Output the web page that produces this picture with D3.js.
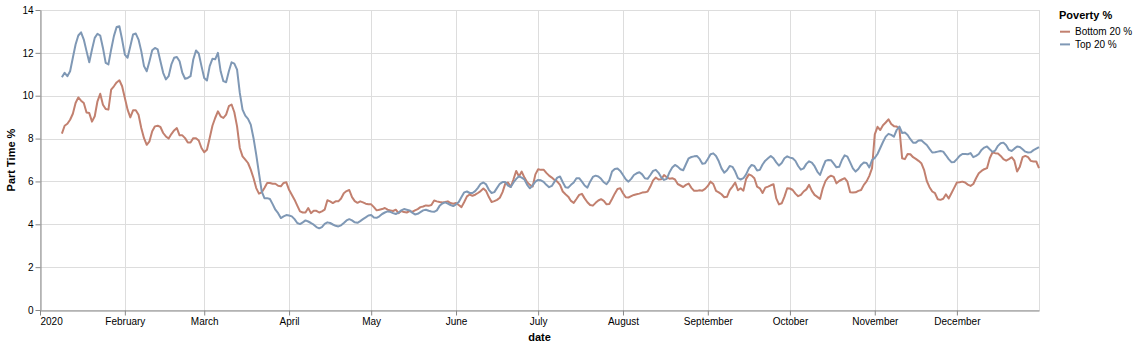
<!DOCTYPE html>
<html>
<head>
<meta charset="utf-8">
<script src="https://cdn.jsdelivr.net/npm/d3@7"></script>
<style>
  body { margin: 0; background: #fff; }
  svg { display: block; }
  text { font-family: "Liberation Sans", Arial, sans-serif; }
</style>
</head>
<body>
<svg id="chart" width="1138" height="347"></svg>
<script>
// Daily series, first value on startDate, one value per day through Dec 31.
const startDate = "2020-01-09";
const seriesNames = ["Bottom 20 %", "Top 20 %"];
const seriesColors = ["#c2806f", "#7f98b5"];

const bottom20 = [
  8.23,8.6,8.69,8.88,9.16,9.66,9.92,9.77,9.66,9.22,
  9.19,8.79,9.04,9.74,10.09,9.58,9.38,9.35,10.28,10.44,
  10.62,10.72,10.44,9.89,9.35,8.99,9.32,9.32,9.11,8.49,
  8.02,7.71,7.87,8.34,8.57,8.6,8.54,8.26,8.1,8.0,
  8.21,8.38,8.49,8.15,8.15,8.02,7.82,7.82,8.02,8.02,
  7.91,7.56,7.36,7.48,8.03,8.6,8.96,9.27,9.04,8.96,
  9.12,9.51,9.59,9.23,8.57,7.56,7.17,7.02,6.86,6.55,
  6.16,5.69,5.43,5.49,5.69,5.93,5.93,5.89,5.89,5.8,
  5.77,5.93,5.96,5.61,5.38,5.15,4.87,4.6,4.55,4.55,
  4.76,4.52,4.63,4.63,4.55,4.6,4.68,5.12,5.07,4.99,
  5.07,5.07,5.2,5.45,5.55,5.6,5.27,5.08,5.0,5.07,
  5.02,4.96,4.94,4.93,4.8,4.65,4.68,4.71,4.76,4.68,
  4.65,4.62,4.68,4.52,4.62,4.57,4.55,4.62,4.58,4.65,
  4.71,4.8,4.83,4.88,4.86,4.9,5.11,5.07,5.04,5.02,
  5.04,5.07,4.99,4.96,4.99,4.9,4.8,5.04,5.3,5.39,
  5.33,5.38,5.46,5.55,5.67,5.55,5.27,5.04,5.08,5.14,
  5.24,5.5,5.9,5.95,5.74,6.1,6.49,6.23,6.46,6.18,
  5.96,5.84,5.76,6.33,6.57,6.54,6.55,6.4,6.27,6.18,
  6.07,5.99,5.84,5.53,5.4,5.29,5.09,5.0,5.18,5.37,
  5.42,5.21,5.03,4.9,4.87,5.0,5.11,5.17,5.09,4.93,
  4.95,5.18,5.43,5.65,5.68,5.45,5.26,5.25,5.31,5.37,
  5.4,5.43,5.48,5.49,5.53,5.76,6.05,6.18,6.09,6.1,
  6.3,6.19,6.13,6.15,6.09,5.88,5.81,5.74,5.84,5.9,
  5.7,5.56,5.56,5.59,5.57,5.65,5.79,5.99,5.88,5.56,
  5.49,5.4,5.26,5.28,5.59,5.76,5.95,5.59,5.68,5.57,
  6.12,6.33,6.27,6.15,5.76,5.68,5.46,5.71,5.76,5.82,
  5.87,5.21,4.93,4.98,5.29,5.68,5.67,5.6,5.43,5.31,
  5.37,5.53,5.63,5.84,5.56,5.37,5.28,5.18,5.68,6.02,
  6.19,6.27,6.21,5.91,6.02,6.09,6.15,5.99,5.49,5.48,
  5.49,5.56,5.6,5.84,6.0,6.26,6.62,8.2,8.55,8.4,
  8.62,8.75,8.9,8.68,8.58,8.56,8.45,7.08,7.04,7.28,
  7.27,7.13,7.05,6.96,6.85,6.54,6.02,5.73,5.53,5.45,
  5.17,5.14,5.19,5.4,5.2,5.45,5.7,5.95,5.96,5.99,
  5.95,5.85,5.79,5.88,6.15,6.38,6.49,6.57,6.62,7.08,
  7.35,7.32,7.3,7.19,7.04,6.97,7.04,7.13,6.97,6.46,
  6.69,7.13,7.19,7.13,6.96,6.93,6.93,6.62
];

const top20 = [
  10.86,11.07,10.91,11.14,11.77,12.39,12.81,12.96,12.62,12.08,
  11.56,12.16,12.7,12.89,12.81,12.23,11.53,11.46,12.16,12.78,
  13.21,13.24,12.62,11.92,11.77,12.31,12.86,12.9,12.62,12.08,
  11.38,11.14,11.61,12.12,12.23,12.16,11.61,11.07,10.76,10.91,
  11.46,11.77,11.81,11.61,11.07,10.79,10.83,10.91,11.69,12.11,
  11.97,11.38,10.83,10.71,11.38,11.72,11.7,12.0,11.14,10.68,
  10.63,11.14,11.56,11.5,11.22,10.13,9.35,9.07,8.92,8.65,
  8.03,7.25,6.39,5.54,5.22,5.22,5.18,4.94,4.68,4.52,
  4.29,4.37,4.43,4.41,4.37,4.24,4.06,4.01,4.09,4.18,
  4.13,4.06,3.98,3.87,3.81,3.87,4.02,4.09,4.06,3.99,
  3.93,3.9,3.95,4.06,4.18,4.24,4.18,4.09,4.07,4.15,
  4.24,4.32,4.41,4.43,4.32,4.3,4.37,4.48,4.55,4.6,
  4.58,4.52,4.48,4.54,4.65,4.71,4.68,4.65,4.54,4.46,
  4.49,4.57,4.65,4.68,4.63,4.6,4.58,4.65,4.86,4.97,
  5.02,4.97,4.9,4.85,4.93,5.04,5.27,5.49,5.53,5.46,
  5.46,5.55,5.7,5.89,5.95,5.86,5.61,5.46,5.5,5.7,
  5.89,5.97,5.97,5.8,5.74,5.95,6.12,6.24,6.18,6.09,
  5.84,5.68,5.81,5.99,6.07,6.05,5.98,5.84,5.73,5.79,
  5.99,6.18,6.23,5.96,5.73,5.71,5.84,5.95,6.15,6.15,
  5.99,5.81,5.71,5.99,6.21,6.27,6.23,6.12,5.96,5.87,
  6.05,6.46,6.58,6.6,6.49,6.3,6.1,5.99,6.12,6.3,
  6.38,6.43,6.33,6.15,6.12,6.3,6.49,6.54,6.4,6.18,
  6.07,6.12,6.43,6.65,6.77,6.69,6.57,6.52,6.8,7.08,
  7.14,7.17,7.19,7.05,6.82,6.85,7.05,7.27,7.31,7.19,
  6.94,6.61,6.41,6.52,6.72,6.68,6.46,6.15,6.09,6.15,
  6.33,6.61,6.77,6.72,6.51,6.54,6.79,6.97,7.08,7.19,
  7.08,6.89,6.74,6.86,7.08,7.17,7.11,7.08,6.96,6.72,
  6.55,6.61,6.82,6.94,6.88,6.71,6.46,6.3,6.65,6.96,
  7.0,6.99,6.83,6.66,6.68,7.0,7.22,7.16,6.89,6.61,
  6.46,6.58,6.77,6.88,6.86,6.65,7.0,7.1,7.28,7.56,
  7.84,8.09,8.22,8.17,8.09,8.4,8.56,8.26,8.28,8.17,
  7.97,7.81,7.81,7.91,7.92,7.81,7.7,7.52,7.35,7.36,
  7.39,7.42,7.39,7.22,7.04,6.9,6.91,7.04,7.19,7.28,
  7.28,7.27,7.32,7.13,7.19,7.28,7.47,7.58,7.63,7.5,
  7.38,7.44,7.66,7.78,7.81,7.69,7.47,7.42,7.53,7.63,
  7.61,7.5,7.39,7.35,7.36,7.46,7.53,7.6
];

const yTickValues = [0, 2, 4, 6, 8, 10, 12, 14];
const monthLabels = ["2020", "February", "March", "April", "May", "June", "July",
                     "August", "September", "October", "November", "December"];
const xTitle = "date";
const yTitle = "Part Time %";
const legendTitle = "Poverty %";

// ---- layout ----
const svg = d3.select("#chart");
const plot = { left: 40, top: 10, right: 1039, bottom: 310 };

const parseDay = d3.timeParse("%Y-%m-%d");
const first = parseDay(startDate);
const dates = bottom20.map((_, i) => d3.timeDay.offset(first, i));

const x = d3.scaleTime()
  .domain([new Date(2020, 0, 1), new Date(2020, 11, 31)])
  .range([plot.left, plot.right]);
const y = d3.scaleLinear().domain([0, 14]).range([plot.bottom, plot.top]);

const monthTicks = d3.timeMonth.range(new Date(2020, 0, 1), new Date(2021, 0, 1));

const grid = svg.append("g").attr("stroke", "#ddd").attr("stroke-width", 1).attr("fill", "none");
grid.selectAll("line.h").data(yTickValues).join("line")
  .attr("x1", plot.left).attr("x2", plot.right)
  .attr("y1", d => Math.round(y(d)) + 0.5).attr("y2", d => Math.round(y(d)) + 0.5);
grid.selectAll("line.v").data(monthTicks).join("line")
  .attr("y1", plot.top).attr("y2", plot.bottom)
  .attr("x1", d => Math.round(x(d)) + 0.5).attr("x2", d => Math.round(x(d)) + 0.5);
grid.append("rect")
  .attr("x", plot.left + 0.5).attr("y", plot.top + 0.5)
  .attr("width", plot.right - plot.left).attr("height", plot.bottom - plot.top);

// ---- axes ----
const xAxis = d3.axisBottom(x)
  .tickValues(monthTicks)
  .tickSizeInner(5).tickSizeOuter(0).tickPadding(2)
  .tickFormat((d, i) => monthLabels[i]);
const gx = svg.append("g")
  .attr("transform", `translate(0,${plot.bottom + 0.5})`)
  .call(xAxis);
gx.select(".domain").attr("stroke", "#888");
gx.selectAll(".tick line").attr("stroke", "#888");
gx.selectAll(".tick text")
  .attr("font-size", 10).attr("fill", "#000")
  .attr("font-family", "'Liberation Sans', Arial, sans-serif")
  .attr("text-anchor", (d, i) => i === 0 ? "start" : "middle");

const yAxis = d3.axisLeft(y)
  .tickValues(yTickValues)
  .tickSizeInner(5).tickSizeOuter(0).tickPadding(2);
const gy = svg.append("g")
  .attr("transform", `translate(${plot.left + 0.5},0)`)
  .call(yAxis);
gy.select(".domain").attr("stroke", "#888");
gy.selectAll(".tick line").attr("stroke", "#888");
gy.selectAll(".tick text")
  .attr("font-size", 10).attr("fill", "#000")
  .attr("font-family", "'Liberation Sans', Arial, sans-serif");

svg.append("text")
  .attr("transform", `translate(15,${(plot.top + plot.bottom) / 2}) rotate(-90)`)
  .attr("text-anchor", "middle")
  .attr("font-size", 11).attr("font-weight", "bold").attr("fill", "#000")
  .text(yTitle);

svg.append("text")
  .attr("x", (plot.left + plot.right) / 2).attr("y", 341)
  .attr("text-anchor", "middle")
  .attr("font-size", 11).attr("font-weight", "bold").attr("fill", "#000")
  .text(xTitle);

// ---- lines ----
const series = [bottom20, top20];
const line = d3.line()
  .x((d, i) => x(dates[i]))
  .y(d => y(d));

svg.append("g").selectAll("path").data(series).join("path")
  .attr("fill", "none")
  .attr("stroke", (d, i) => seriesColors[i])
  .attr("stroke-width", 2)
  .attr("stroke-linejoin", "round")
  .attr("d", line);

// ---- legend ----
const legend = svg.append("g").attr("transform", "translate(1059,0)");
legend.append("text")
  .attr("x", 0).attr("y", 19)
  .attr("font-size", 11).attr("font-weight", "bold").attr("fill", "#000")
  .text(legendTitle);
const entries = legend.selectAll("g.entry").data(seriesNames).join("g")
  .attr("transform", (d, i) => `translate(0,${31.7 + i * 12.7})`);
entries.append("line")
  .attr("x1", 1).attr("x2", 11).attr("y1", 0).attr("y2", 0)
  .attr("stroke", (d, i) => seriesColors[i]).attr("stroke-width", 2);
entries.append("text")
  .attr("x", 16).attr("y", 0).attr("dy", "0.32em")
  .attr("font-size", 10).attr("fill", "#000")
  .text(d => d);
</script>
</body>
</html>
